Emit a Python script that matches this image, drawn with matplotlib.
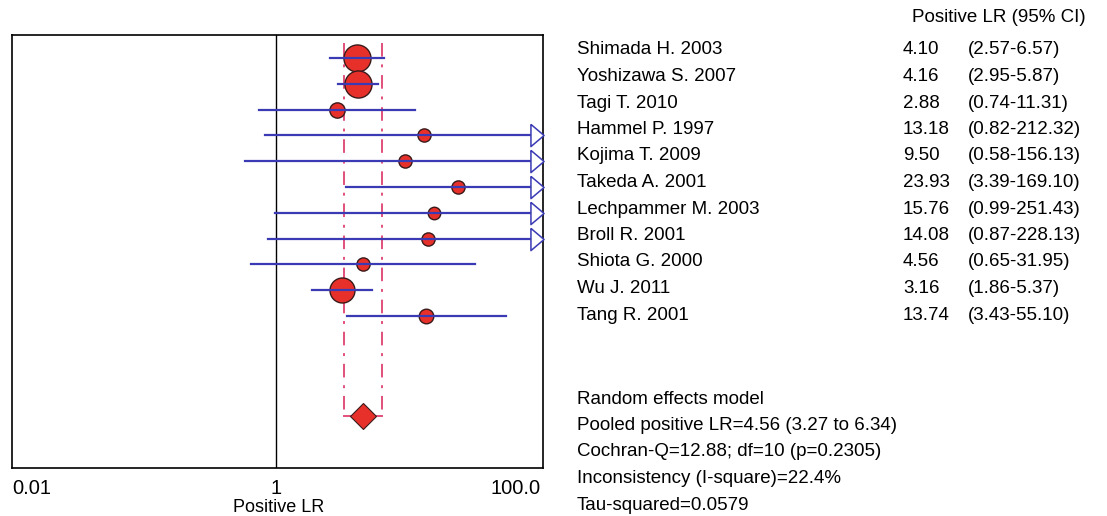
import matplotlib
matplotlib.use("Agg")
import matplotlib.pyplot as plt
import numpy as np
from matplotlib.transforms import blended_transform_factory

plt.rcParams['font.family'] = ['Liberation Sans', 'DejaVu Sans']

studies = ["Shimada H. 2003", "Yoshizawa S. 2007", "Tagi T. 2010", "Hammel P. 1997",
           "Kojima T. 2009", "Takeda A. 2001", "Lechpammer M. 2003", "Broll R. 2001",
           "Shiota G. 2000", "Wu J. 2011", "Tang R. 2001"]
lr = [4.10, 4.16, 2.88, 13.18, 9.50, 23.93, 15.76, 14.08, 4.56, 3.16, 13.74]
ci_lo = [2.57, 2.95, 0.74, 0.82, 0.58, 3.39, 0.99, 0.87, 0.65, 1.86, 3.43]
ci_hi = [6.57, 5.87, 11.31, 212.32, 156.13, 169.10, 251.43, 228.13, 31.95, 5.37, 55.10]
ci_text = ["(2.57-6.57)", "(2.95-5.87)", "(0.74-11.31)", "(0.82-212.32)", "(0.58-156.13)",
           "(3.39-169.10)", "(0.99-251.43)", "(0.87-228.13)", "(0.65-31.95)",
           "(1.86-5.37)", "(3.43-55.10)"]
# relative marker size (study weight)
weights = [19.5, 19.5, 11, 9.5, 9.5, 9.5, 9, 9.5, 9.5, 18, 10.5]

pooled = 4.56
pooled_lo = 3.27
pooled_hi = 6.34

tick_vals = [0.01, 1, 100]
tick_labels = ["0.01", "1", "100.0"]

summary_lines = ["Random effects model",
                 "Pooled positive LR=4.56 (3.27 to 6.34)",
                 "Cochran-Q=12.88; df=10 (p=0.2305)",
                 "Inconsistency (I-square)=22.4%",
                 "Tau-squared=0.0579"]

fig = plt.figure(figsize=(11.07, 5.16), dpi=100)
ax = fig.add_axes([0.0108, 0.093, 0.4797, 0.839])
ax.set_xscale('log')
xmin, xmax = 0.01, 105
ax.set_xlim(xmin, xmax)
ax.set_ylim(15.9, -0.89)

red = '#e8302a'
blue = '#3a3ab4'
pink = '#e0507a'
edge = '#3a1a1a'

ax.axvline(1, color='black', lw=1.0, zorder=1)

diamond_y = 13.9
for v in (pooled_lo, pooled_hi):
    ax.plot([v, v], [-0.6, diamond_y], color=pink, lw=1.4, ls=(0, (7, 4, 1.5, 4)), zorder=2)
ax.plot([pooled_lo, pooled_hi], [diamond_y, diamond_y], color=pink, lw=1.4, zorder=2)

arrow_marker = [(-0.59, 1.0), (0.59, 0.0), (-0.59, -1.0), (-0.59, 1.0)]
btrans = blended_transform_factory(ax.transAxes, ax.transData)
for i in range(len(studies)):
    hi = min(ci_hi[i], xmax)
    ax.plot(lr[i], i, marker='o', ms=weights[i], mfc=red, mec=edge, mew=1.0, zorder=3)
    ax.plot([ci_lo[i], hi], [i, i], color=blue, lw=1.6, zorder=4)
    if ci_hi[i] > xmax:
        ax.plot(0.988, i, marker=arrow_marker, ms=16, mfc='white', mec=blue, mew=1.1,
                transform=btrans, zorder=5, clip_on=False)

ax.plot(pooled, diamond_y, marker='D', ms=13, mfc=red, mec=edge, mew=0.8, zorder=5)

ax.set_xticks([])
ax.set_yticks([])
ax.minorticks_off()
ax.tick_params(which='both', length=0, labelbottom=False, labelleft=False)
for s in ax.spines.values():
    s.set_linewidth(1.2)

tt = blended_transform_factory(ax.transData, fig.transFigure)
aligns = ['left', 'center', 'right']
for v, lab, ha in zip(tick_vals, tick_labels, aligns):
    ax.text(v, 1 - 489 / 516, lab, transform=tt, ha=ha, va='center', fontsize=14.5)
fig.text(0.252, 1 - 507 / 516, "Positive LR", ha='center', va='center', fontsize=13)

fs = 13.5
fig.text(912 / 1107, 1 - 18 / 516, "Positive LR (95% CI)", ha='left', va='center', fontsize=fs)
row_y0 = 50
row_dy = 26.5
for i in range(len(studies)):
    y = 1 - (row_y0 + i * row_dy) / 516
    fig.text(577 / 1107, y, studies[i], ha='left', va='center', fontsize=fs)
    fig.text(903 / 1107, y, f"{lr[i]:.2f}", ha='left', va='center', fontsize=fs)
    fig.text(968 / 1107, y, ci_text[i], ha='left', va='center', fontsize=fs)

for j, line in enumerate(summary_lines):
    y = 1 - (399 + j * 26.5) / 516
    fig.text(577 / 1107, y, line, ha='left', va='center', fontsize=fs)

fig.savefig("out.png", dpi=100)
